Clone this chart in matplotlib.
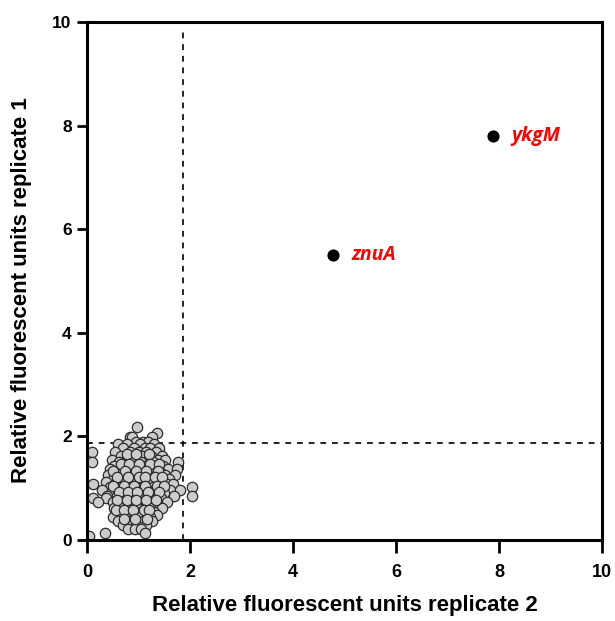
import numpy as np
import matplotlib.pyplot as plt

plt.rcParams['font.family'] = ['Liberation Sans', 'DejaVu Sans']

rows = [
    (2.18, [0.97]),
    (2.07, [1.36]),
    (1.99, [0.84, 0.88, 1.26]),
    (1.90, [0.95, 1.09, 1.18]),
    (1.85, [0.60, 0.78, 1.02, 1.30]),
    (1.78, [0.70, 0.92, 1.12, 1.22, 1.40]),
    (1.70, [0.10, 0.55, 0.83, 1.00, 1.15, 1.33]),
    (1.62, [0.66, 0.90, 1.07, 1.25, 1.45]),
    (1.55, [0.48, 0.75, 0.97, 1.18, 1.38, 1.52]),
    (1.50, [0.10, 0.62, 0.86, 1.05, 1.29, 1.77]),
    (1.43, [0.52, 0.70, 0.93, 1.13, 1.35, 1.48]),
    (1.37, [0.44, 0.80, 1.00, 1.22, 1.58, 1.75]),
    (1.30, [0.58, 0.68, 0.89, 1.08, 1.30, 1.43]),
    (1.25, [0.40, 0.76, 0.97, 1.18, 1.52, 1.71]),
    (1.18, [0.50, 0.64, 0.85, 1.04, 1.26, 1.38, 1.60]),
    (1.12, [0.36, 0.72, 0.93, 1.14, 1.33, 1.47]),
    (1.08, [0.12, 0.55, 0.80, 1.00, 1.21, 1.55, 1.67]),
    (1.02, [0.44, 0.66, 0.88, 1.08, 1.28, 1.42, 2.04]),
    (0.97, [0.30, 0.60, 0.76, 0.95, 1.16, 1.36, 1.62, 1.80]),
    (0.90, [0.47, 0.70, 0.85, 1.03, 1.24, 1.50]),
    (0.85, [0.38, 0.58, 0.92, 1.12, 1.32, 1.68, 2.04]),
    (0.81, [0.12, 0.37, 0.66, 0.80, 1.00, 1.20, 1.44]),
    (0.73, [0.21, 0.50, 0.72, 0.88, 1.07, 1.28, 1.55]),
    (0.68, [0.60, 0.95, 1.16, 1.38]),
    (0.62, [0.52, 0.78, 0.98, 1.22, 1.46]),
    (0.55, [0.64, 0.86, 1.05, 1.30]),
    (0.48, [0.55, 0.75, 0.93, 1.13, 1.36]),
    (0.44, [0.50, 0.68, 1.02, 1.22]),
    (0.37, [0.60, 0.84, 1.08, 1.26]),
    (0.29, [0.70, 0.95, 1.15]),
    (0.21, [0.80, 0.93, 1.05]),
    (0.14, [0.35, 1.13]),
    (0.08, [0.04]),
    # second layer filling the dense core
    (1.66, [0.78, 0.96, 1.20]),
    (1.47, [0.66, 0.82, 1.01, 1.22, 1.40]),
    (1.34, [0.50, 0.74, 0.95, 1.15, 1.37]),
    (1.21, [0.58, 0.80, 1.00, 1.12, 1.32, 1.45]),
    (1.05, [0.50, 0.72, 0.92, 1.13, 1.36, 1.50]),
    (0.93, [0.62, 0.80, 0.98, 1.18, 1.40]),
    (0.77, [0.58, 0.77, 0.95, 1.14, 1.34]),
    (0.58, [0.56, 0.72, 0.90, 1.10, 1.20]),
    (0.40, [0.72, 0.94, 1.16]),
]
rep2 = [x for y, xs in rows for x in xs]
rep1 = [y for y, xs in rows for x in xs]

# hits
hit_names = ['znuA', 'ykgM']
hit_rep2 = [4.78, 7.88]
hit_rep1 = [5.50, 7.80]

cutoff = 1.87

fig = plt.figure(figsize=(6.15, 6.21), dpi=100)
ax = fig.add_axes([0.1415, 0.1304, 0.8375, 0.8342])

ax.axhline(cutoff, color='black', lw=1.2, ls=(0, (3.5, 3.5)), zorder=1)
ax.axvline(cutoff, ymax=0.985, color='black', lw=1.2, ls=(0, (3.5, 3.5)), zorder=1)

ax.scatter(rep2, rep1, s=56, facecolor='#cccccc', edgecolor='#2b2b2b',
           linewidth=0.9, zorder=2)
ax.scatter(hit_rep2, hit_rep1, s=60, color='black', zorder=3)
for name, x, y in zip(hit_names, hit_rep2, hit_rep1):
    ax.text(x + 0.35, y, name, color='red', fontsize=14, fontweight='bold',
            fontstyle='italic', va='center', family=['Open Sans', 'DejaVu Sans'])

ax.set_xlim(0, 10)
ax.set_ylim(0, 10)
ax.set_xticks(np.arange(0, 11, 2))
ax.set_yticks(np.arange(0, 11, 2))
for s in ax.spines.values():
    s.set_linewidth(2.2)
ax.tick_params(axis='x', width=2, length=9, labelsize=13, pad=8)
ax.tick_params(axis='y', width=2, length=7, labelsize=12.5, pad=4)
for lab in ax.get_xticklabels() + ax.get_yticklabels():
    lab.set_fontweight('bold')
ax.set_xlabel('Relative fluorescent units replicate 2', fontsize=16,
              fontweight='bold', labelpad=10)
ax.set_ylabel('Relative fluorescent units replicate 1', fontsize=16,
              fontweight='bold')
ax.yaxis.set_label_coords(-0.107, 0.483)

fig.savefig('out.png', dpi=100)
